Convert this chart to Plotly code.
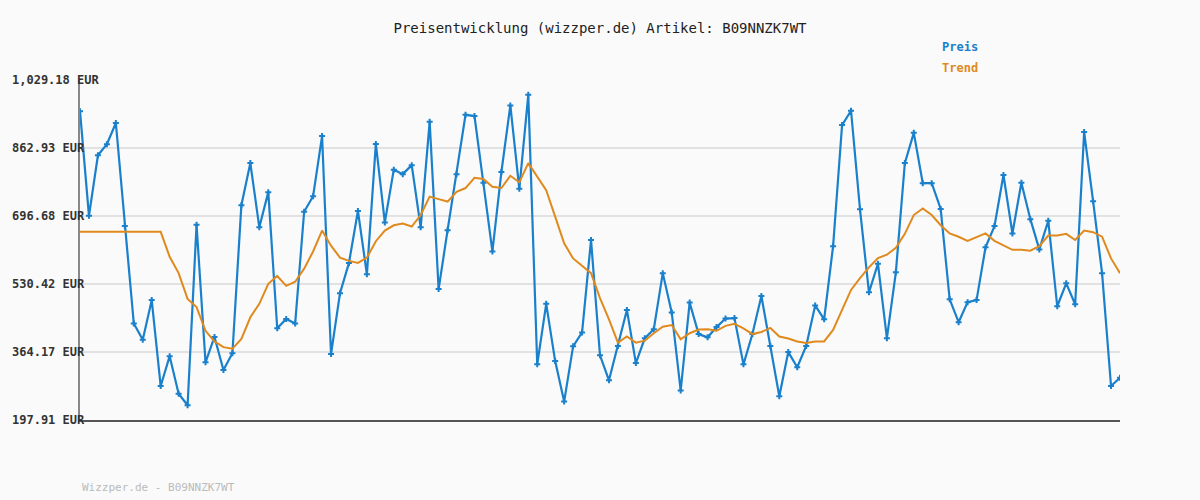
import plotly.graph_objects as go

# Preis data (EUR)
preis = [953, 697, 845, 872, 924, 672, 434, 394, 491, 281,
         354, 262, 234, 675, 339, 401, 320, 361, 723, 826,
         669, 755, 422, 445, 434, 707, 745, 892, 359, 508,
         582, 709, 554, 873, 681, 810, 799, 821, 669, 927,
         518, 662, 799, 944, 941, 778, 610, 804, 967, 763,
         993, 334, 482, 342, 243, 378, 412, 638, 356, 295,
         379, 467, 337, 398, 420, 557, 461, 270, 485, 408,
         400, 425, 446, 447, 334, 408, 501, 379, 256, 364,
         327, 379, 478, 444, 623, 919, 954, 713, 510, 580,
         398, 559, 826, 900, 777, 777, 714, 493, 437, 486,
         491, 620, 672, 797, 654, 778, 689, 615, 685, 476,
         532, 481, 902, 733, 557, 281, 301]

trend = [658, 658, 658, 658, 658, 658, 658, 658, 658, 658,
         597, 557, 494, 474, 416, 390, 376, 372, 396, 449,
         482, 531, 550, 526, 536, 568, 610, 661, 624, 595,
         587, 582, 595, 635, 661, 674, 678, 671, 699, 744,
         738, 732, 756, 765, 790, 787, 768, 765, 795, 779,
         826, 793, 760, 695, 630, 593, 575, 557, 496, 444,
         387, 402, 387, 392, 410, 426, 430, 395, 410, 419,
         420, 416, 428, 433, 422, 408, 413, 423, 402, 397,
         390, 386, 390, 390, 418, 467, 516, 545, 571, 594,
         602, 619, 653, 699, 715, 699, 674, 654, 646, 636,
         646, 654, 636, 626, 614, 614, 612, 623, 649, 649,
         653, 638, 661, 657, 646, 593, 557]

tick_vals = [197.91, 364.17, 530.42, 696.68, 862.93, 1029.18]
tick_text = ["197.91 EUR", "364.17 EUR", "530.42 EUR", "696.68 EUR", "862.93 EUR", "1,029.18 EUR"]

blue = "#1a80cc"
orange = "#e08a1e"
mono = "DejaVu Sans Mono"

idx = list(range(len(preis)))

fig = go.Figure()
fig.add_trace(go.Scatter(
    x=idx, y=preis, mode="lines+markers", name="Preis",
    line=dict(color=blue, width=2.2),
    marker=dict(symbol="cross", size=5, color=blue)
))
fig.add_trace(go.Scatter(
    x=idx, y=trend, mode="lines", name="Trend",
    line=dict(color=orange, width=2)
))

fig.update_layout(
    width=1200, height=500,
    margin=dict(l=80, r=80, t=80, b=80, autoexpand=False),
    paper_bgcolor="#fafafa", plot_bgcolor="#fafafa",
    showlegend=False,
    font=dict(family=mono, size=12, color="#333"),
    title=dict(text="Preisentwicklung (wizzper.de) Artikel: B09NNZK7WT",
               x=0.5, y=0.953, xanchor="center", font=dict(family=mono, size=14, color="#222")),
    xaxis=dict(range=[0, len(preis) - 1], showgrid=False, showticklabels=False, automargin=False,
               zeroline=False, showline=True, linecolor="#555", linewidth=2, ticks=""),
    yaxis=dict(range=[tick_vals[0], tick_vals[-1]], tickvals=tick_vals,
               showticklabels=False, automargin=False,
               showgrid=True, gridcolor="#e2e2e2", gridwidth=2, zeroline=False,
               showline=True, linecolor="#888", linewidth=2, ticks=""),
)

# y labels sit left-aligned at the page edge, as in the reference
for v, t in zip(tick_vals, tick_text):
    fig.add_annotation(text="<b>" + t + "</b>", x=-70 / 1040, y=v, xref="paper", yref="y",
                       showarrow=False, xanchor="left", yanchor="middle",
                       font=dict(color="#333", family=mono, size=12))

# legend and footer placed in pixel terms, converted to paper coords
labels = [("<b>Preis</b>", 940, 38, blue, 12),
          ("<b>Trend</b>", 940, 59, orange, 12),
          ("Wizzper.de - B09NNZK7WT", 80, 496, "#bbb", 11)]
for txt, px, py, col, sz in labels:
    fig.add_annotation(text=txt, x=(px - 80) / 1040, y=1 - (py - 80) / 340,
                       xref="paper", yref="paper", showarrow=False, xanchor="left",
                       font=dict(color=col, family=mono, size=sz))

fig.write_html("out.html", config={"displayModeBar": False},
               post_script="document.body.style.margin='0';")
